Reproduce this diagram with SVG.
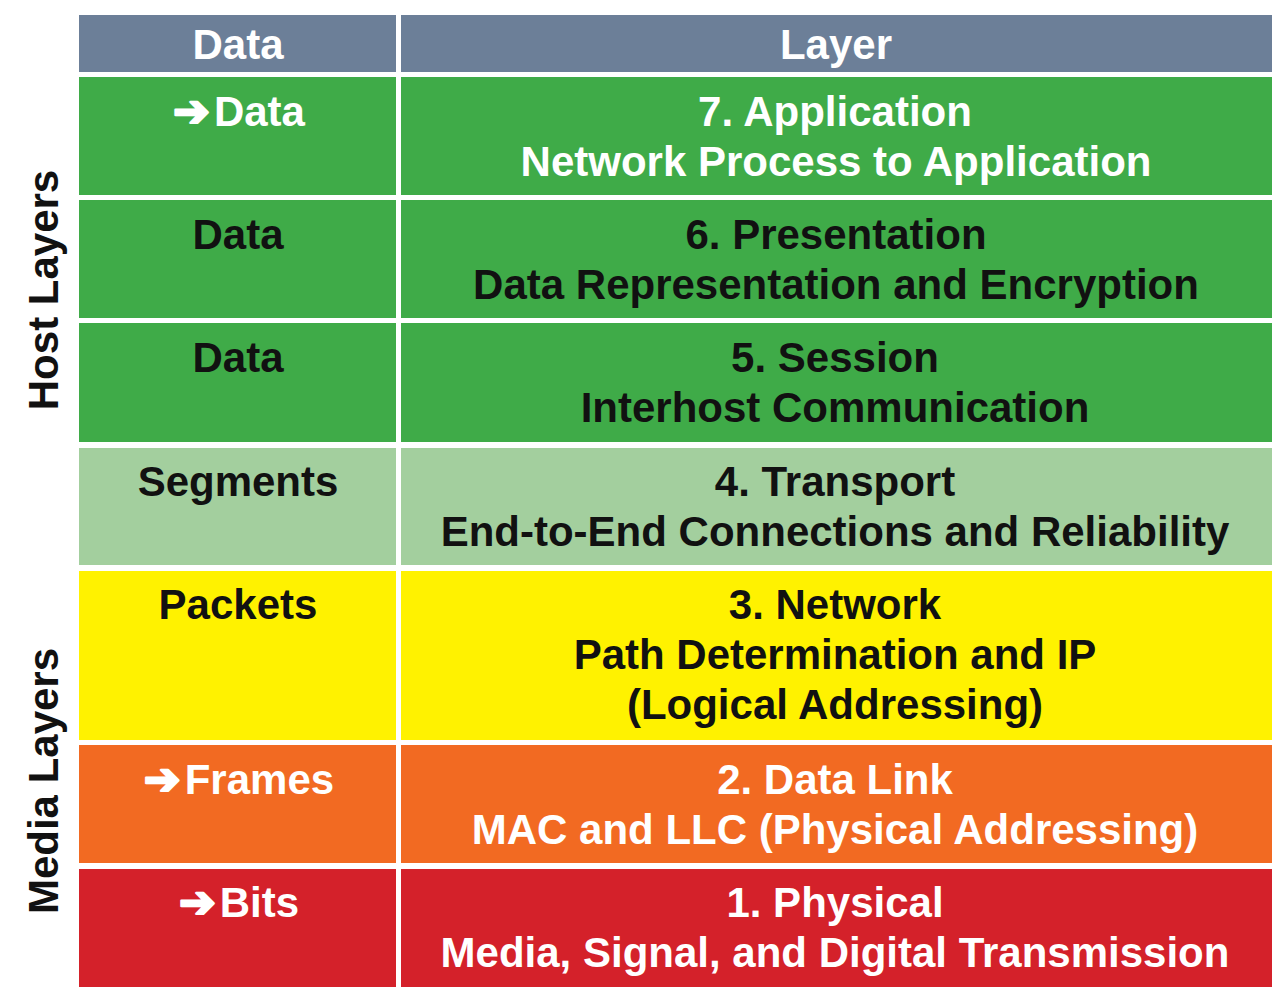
<svg xmlns="http://www.w3.org/2000/svg" width="1280" height="998" viewBox="0 0 1280 998">
  <style>
    text { font-family: "Liberation Sans", Arial, sans-serif; font-weight: bold; font-size: 42px; text-anchor: middle; }
    .lt { fill: #ffffff; }
    .dk { fill: #111111; }
    .arr { font-family: "DejaVu Sans", sans-serif; font-weight: bold; font-size: 44px; stroke: #ffffff; stroke-width: 2.4; stroke-linejoin: round; }
    .hdr { fill: #6c7f98; }
    .g7 { fill: #3fab48; }
    .g4 { fill: #a3cf9e; }
    .y3 { fill: #fff200; }
    .o2 { fill: #f26a22; }
    .r1 { fill: #d4212a; }
  </style>
  <rect width="1280" height="998" fill="#ffffff"/>

  <!-- side labels -->
  <g id="side-labels">
    <text class="dk" transform="translate(58,290) rotate(-90)">Host Layers</text>
    <text class="dk" transform="translate(58,781) rotate(-90)">Media Layers</text>
  </g>

  <!-- header row -->
  <g id="header">
    <rect class="hdr" x="79" y="15" width="317" height="57"/>
    <rect class="hdr" x="401" y="15" width="871" height="57"/>
    <text class="lt" x="238" y="59">Data</text>
    <text class="lt" x="836" y="59">Layer</text>
  </g>

  <!-- 7 -->
  <g id="layer7">
    <rect class="g7" x="79" y="77" width="317" height="118"/>
    <rect class="g7" x="401" y="77" width="871" height="118"/>
    <text class="lt" x="239" y="126"><tspan class="arr">➔</tspan><tspan dx="4">Data</tspan></text>
    <text class="lt" x="835" y="126">7. Application</text>
    <text class="lt" x="836" y="176">Network Process to Application</text>
  </g>

  <!-- 6 -->
  <g id="layer6">
    <rect class="g7" x="79" y="200" width="317" height="118"/>
    <rect class="g7" x="401" y="200" width="871" height="118"/>
    <text class="dk" x="238" y="249">Data</text>
    <text class="dk" x="836" y="249">6. Presentation</text>
    <text class="dk" x="836" y="299">Data Representation and Encryption</text>
  </g>

  <!-- 5 -->
  <g id="layer5">
    <rect class="g7" x="79" y="323" width="317" height="119"/>
    <rect class="g7" x="401" y="323" width="871" height="119"/>
    <text class="dk" x="238" y="372">Data</text>
    <text class="dk" x="835" y="372">5. Session</text>
    <text class="dk" x="835" y="422">Interhost Communication</text>
  </g>

  <!-- 4 -->
  <g id="layer4">
    <rect class="g4" x="79" y="448" width="317" height="117"/>
    <rect class="g4" x="401" y="448" width="871" height="117"/>
    <text class="dk" x="238" y="496">Segments</text>
    <text class="dk" x="835" y="496">4. Transport</text>
    <text class="dk" x="835" y="546">End-to-End Connections and Reliability</text>
  </g>

  <!-- 3 -->
  <g id="layer3">
    <rect class="y3" x="79" y="571" width="317" height="169"/>
    <rect class="y3" x="401" y="571" width="871" height="169"/>
    <text class="dk" x="238" y="619">Packets</text>
    <text class="dk" x="835" y="619">3. Network</text>
    <text class="dk" x="835" y="669">Path Determination and IP</text>
    <text class="dk" x="835" y="719">(Logical Addressing)</text>
  </g>

  <!-- 2 -->
  <g id="layer2">
    <rect class="o2" x="79" y="745" width="317" height="118"/>
    <rect class="o2" x="401" y="745" width="871" height="118"/>
    <text class="lt" x="239" y="794"><tspan class="arr">➔</tspan><tspan dx="4">Frames</tspan></text>
    <text class="lt" x="835" y="794">2. Data Link</text>
    <text class="lt" x="835" y="844">MAC and LLC (Physical Addressing)</text>
  </g>

  <!-- 1 -->
  <g id="layer1">
    <rect class="r1" x="79" y="869" width="317" height="118"/>
    <rect class="r1" x="401" y="869" width="871" height="118"/>
    <text class="lt" x="239" y="917"><tspan class="arr">➔</tspan><tspan dx="4">Bits</tspan></text>
    <text class="lt" x="835" y="917">1. Physical</text>
    <text class="lt" x="835" y="967">Media, Signal, and Digital Transmission</text>
  </g>

  <!-- no connectors in this table -->
  <g id="connectors"/>
</svg>
